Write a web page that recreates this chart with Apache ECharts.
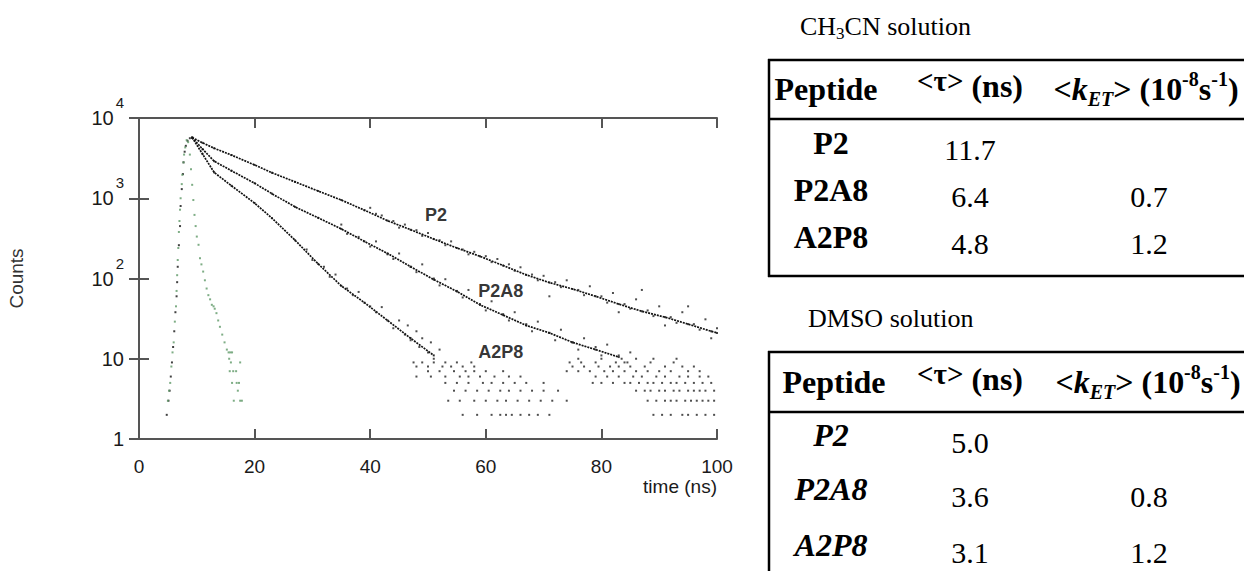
<!DOCTYPE html>
<html><head><meta charset="utf-8">
<script src="https://cdn.jsdelivr.net/npm/echarts@6/dist/echarts.min.js"></script>
<style>html,body{margin:0;padding:0;background:#fff;}#c{width:1244px;height:571px;}</style>
</head><body><div id="c"></div>
<script>
// ---------- data ----------
const xTicks = [0, 20, 40, 60, 80, 100];
const yDecades = [1, 10, 100, 1000, 10000];

// dense part of each decay trace: [time ns, counts]
const P2_main = [[9.2,5700],[11,4900],[13,4200],[16,3450],[20,2600],[23,2080],[27,1600],[31,1230],[35,950],[39,710],[43,525],[47,405],[51,310],[55,240],[59,189],[63,145],[67,111],[71,89],[75,74],[79,60],[83,48],[87,39],[91,33],[95,27],[99,22],[100,21]];
const P2A8_main = [[9.2,5700],[11,4100],[13,2900],[16,2200],[20,1540],[23,1140],[27,780],[31,570],[35,415],[39,290],[43,205],[47,140],[51,97],[55,69],[59,47],[63,35],[67,26],[71,21],[75,16],[79,13],[83,10.5]];
const A2P8_main = [[9.2,5700],[11,3550],[13,2100],[16,1430],[20,870],[23,565],[27,300],[31,152],[35,81],[39,50],[43,30],[47,18],[51,11]];

// scattered counts around each trace
const P2_noise = [[40,760],[41,640],[42,610],[44,520],[45,430],[46,470],[48,400],[49,340],[50,370],[52,300],[53,260],[54,290],[56,230],[57,200],[58,215],[60,190],[61,160],[62,175],[64,150],[65,125],[66,138],[68,112],[69,95],[70,108],[72,90],[73,78],[74,95],[76,72],[77,62],[78,80],[80,60],[81,50],[82,66],[84,48],[85,42],[86,55],[87,72],[88,40],[89,34],[90,45],[92,33],[93,28],[94,38],[95,45],[96,27],[97,23],[98,31],[99,18],[100,24],[71,60],[83,38],[91,26]];
const P2A8_noise = [[35,470],[36,360],[38,330],[40,250],[41,290],[43,200],[44,175],[45,205],[47,140],[48,120],[49,150],[51,100],[52,82],[53,98],[55,70],[56,58],[57,72],[59,48],[60,40],[61,52],[63,36],[64,30],[65,38],[67,27],[68,22],[69,29],[71,21],[72,17],[73,23],[75,16],[76,13],[77,18],[79,14],[80,11],[81,15],[83,11],[84,9],[85,12],
 [76,10],[80,10],[83.5,10],[86,10],[89,10],[93,10],
 [74.5,9],[76.5,9],[79,9],[82.5,9],[84.5,9],[88.5,9],[92.5,9],
 [75,8],[77,8],[79.5,8],[81.5,8],[83,8],[85,8],[87.5,8],[91,8],[94,8],[96,8],
 [74,7],[76,7],[78,7],[80.5,7],[82,7],[84,7],[86,7],[88,7],[90,7],[92,7],[95,7],[97,7],
 [79,6],[81,6],[83,6],[85.5,6],[87,6],[89.5,6],[91,6],[93.5,6],[95,6],[97,6],[98.5,6],
 [78.5,5],[80,5],[82,5],[84,5],[85,5],[86.5,5],[88,5],[89,5],[90.5,5],[92,5],[93,5],[94.5,5],[96,5],[97.5,5],[99,5],
 [86,4],[87.5,4],[88.5,4],[90,4],[91,4],[92.5,4],[93.5,4],[95,4],[96,4],[97,4],[98,4],[99.5,4],
 [88,3],[89.5,3],[91,3],[92,3],[93,3],[94.5,3],[95.5,3],[96.5,3],[97.5,3],[98.5,3],[99.5,3],
 [89,2],[90.5,2],[92,2],[94,2],[95,2],[96.5,2],[98,2],[99.5,2]];
const A2P8_noise = [[29,230],[30,170],[32,140],[33,105],[34,112],[36,75],[37,62],[38,68],[40,45],[41,38],[42,44],[44,24],[45,30],[46,20],[46.5,26],[47,17],[48,22],[48.5,14],[49,18],[50,12],[50.5,16],[51,10],[52,13],
 [47.5,9],[49,9],[51,9],[53,9],[55,9],[57.5,9],
 [48,8],[50,8],[52.5,8],[54,8],[56,8],[58,8],
 [50,7],[52,7],[54.5,7],[56.5,7],[58,7],[60,7],[63,7],
 [48,6],[50.5,6],[53,6],[55.5,6],[57,6],[59,6],[61.5,6],[64,6],[66,6],
 [53,5],[55,5],[57,5],[59.5,5],[61,5],[63,5],[65,5],[67,5],[70,5],
 [54.5,4],[56.5,4],[58.5,4],[60.5,4],[62.5,4],[64,4],[66,4],[68,4],[70,4],[72.5,4],
 [53.5,3],[55.5,3],[58,3],[60,3],[62,3],[63.5,3],[65.5,3],[67.5,3],[69.5,3],[71.5,3],[74,3],
 [56,2],[58.5,2],[61,2],[62.5,2],[63.5,2],[64.5,2],[66,2],[67.5,2],[69,2],[71,2]];

// rising edge of the decays (black) and instrument response (green)
const rise = [[4.8,2],[5.1,3],[5.3,4],[5.5,6],[5.7,9],[5.9,14],[6.1,22],[6.3,38],[6.5,60],[6.6,90],[6.7,140],[6.9,260],[7.1,450],[7.2,800],[7.4,1300],[7.6,2000],[7.7,2800],[7.9,3800],[8.1,4500],[8.4,5200],[8.8,5600]];
const IRF = [[5.0,3],[5.2,4],[5.4,5],[5.6,8],[5.8,12],[6.0,16],[6.2,29],[6.4,45],[6.5,70],[6.6,110],[6.7,170],[6.8,240],[6.9,380],[7.0,520],[7.1,720],[7.2,1000],[7.4,1500],[7.5,1960],[7.7,2800],[7.8,3500],[8.0,4300],[8.25,5300],[8.5,5000],[8.8,3500],[9.0,2300],[9.2,1470],[9.4,950],[9.6,620],[9.8,450],[10.0,333],[10.3,263],[10.55,179],[10.8,150],[11.1,122],[11.4,95],[11.7,75],[12.0,62],[12.3,55],[12.6,47],[12.9,45],[13.1,42],[13.4,37],[13.7,30],[14.0,25],[14.4,20],[14.8,16],[15.2,13],[15.5,12],[15.8,12],[16.1,12],[15.6,10],[15.9,9],[16.3,7],[15.7,7],[16.8,7],[17.5,9],[16.1,5],[16.9,5],[17.3,5],[17.1,4],[16.4,3],[17.5,3],[17.8,3]];

// curve annotations
const annotNames = ['P2', 'P2A8', 'A2P8'];
const annotT = [51.4, 62.6, 62.6];
const annotC = [620, 69, 12.2];

// tables
const tablePeptides = ['P2', 'P2A8', 'A2P8'];
const ch3cnTau = ['11.7', '6.4', '4.8'];
const ch3cnKet = ['', '0.7', '1.2'];
const dmsoTau = ['5.0', '3.6', '3.1'];
const dmsoKet = ['', '0.8', '1.2'];

// ---------- drawing ----------
const sans = "'Liberation Sans', Arial, sans-serif";
const serif = "'Liberation Serif', 'Times New Roman', serif";
const axisCol = '#555';
const txtCol = '#1a1a1a';

const chart = echarts.init(document.getElementById('c'), null, {renderer: 'svg', width: 1244, height: 571});

const richT = {
  b:   {fontFamily: serif, fontSize: 32, fontWeight: 'bold', lineHeight: 40, fill: '#000'},
  bi:  {fontFamily: serif, fontSize: 32, fontWeight: 'bold', fontStyle: 'italic', lineHeight: 40, fill: '#000'},
  r:   {fontFamily: serif, fontSize: 30, lineHeight: 40, fill: '#000'},
  tau: {fontFamily: serif, fontSize: 29, fontWeight: 'bold', lineHeight: 32, verticalAlign: 'top', fill: '#000'},
  sub: {fontFamily: serif, fontSize: 20, fontWeight: 'bold', fontStyle: 'italic', lineHeight: 20, verticalAlign: 'bottom', fill: '#000'},
  sup: {fontFamily: serif, fontSize: 20, fontWeight: 'bold', lineHeight: 20, verticalAlign: 'top', fill: '#000'},
  t:   {fontFamily: serif, fontSize: 26, lineHeight: 32, fill: '#000'},
  ts:  {fontFamily: serif, fontSize: 17, lineHeight: 16, verticalAlign: 'bottom', fill: '#000'}
};
function T(x, y, text, align) {
  return {type: 'text', x: x, y: y, silent: true,
    style: {text: text, rich: richT, align: align || 'center', verticalAlign: 'middle', fontFamily: serif, fontSize: 30}};
}
function L(x1, y1, x2, y2) {
  return {type: 'line', silent: true, shape: {x1, y1, x2, y2}, style: {stroke: '#000', lineWidth: 2.5}};
}
const colPep = 831, colTau = 970, colKet = 1149;
const kHeader = '{b|<}{bi|k}{sub|ET}{b|> (10}{sup|-8}{b|s}{sup|-1}{b|)}';
const tauHeader = '{tau|<τ>}{b| (ns)}';
const graphics = [];
// CH3CN table
graphics.push(T(800, 26, '{t|CH}{ts|3}{t|CN solution}', 'left'));
graphics.push(L(769, 59, 769, 277), L(768, 60, 1244, 60), L(768, 119, 1244, 119), L(768, 276, 1244, 276));
graphics.push(T(826, 89, '{b|Peptide}'), T(colTau, 86, tauHeader), T(1146, 89, kHeader));
const rowY1 = [143, 190, 237];
tablePeptides.forEach((p, i) => {
  graphics.push(T(colPep, rowY1[i], '{b|' + p + '}'));
  graphics.push(T(colTau, rowY1[i] + 6, '{r|' + ch3cnTau[i] + '}'));
  if (ch3cnKet[i]) graphics.push(T(colKet, rowY1[i] + 6, '{r|' + ch3cnKet[i] + '}'));
});
// DMSO table
graphics.push(T(808, 318, '{t|DMSO solution}', 'left'));
graphics.push(L(769, 351, 769, 571), L(768, 352, 1244, 352), L(768, 412, 1244, 412));
graphics.push(T(834, 382, '{b|Peptide}'), T(colTau, 379, tauHeader), T(1148, 382, kHeader));
const rowY2 = [435, 489, 545];
tablePeptides.forEach((p, i) => {
  graphics.push(T(colPep, rowY2[i], '{bi|' + p + '}'));
  graphics.push(T(colTau, rowY2[i] + 7, '{r|' + dmsoTau[i] + '}'));
  if (dmsoKet[i]) graphics.push(T(colKet, rowY2[i] + 7, '{r|' + dmsoKet[i] + '}'));
});

function yLabel(v) {
  const e = Math.round(Math.log10(v));
  if (e <= 1) return '{b|' + (e === 0 ? '1' : '10') + '}';
  return '{b|10}{s|' + e + '}';
}
const axisBase = {
  axisLine: {show: true, lineStyle: {color: axisCol, width: 2}},
  axisTick: {show: true, inside: true, length: 10, lineStyle: {color: axisCol, width: 2}},
  splitLine: {show: false}
};
const dotSeries = (data, color, size) => ({type: 'scatter', data: data, symbol: 'rect', symbolSize: size || 2,
  itemStyle: {color: color}, silent: true, z: 3});
const lineSeries = (data) => ({type: 'line', data: data, showSymbol: false, silent: true, z: 2,
  lineStyle: {color: '#111', width: 1.7, type: [2, 1]}});

const option = {
  animation: false,
  backgroundColor: '#fff',
  grid: {left: 139, top: 118, width: 578, height: 321, containLabel: false},
  xAxis: [
    Object.assign({type: 'value', min: 0, max: 100, interval: 20, position: 'bottom',
      axisLabel: {show: true, fontSize: 19, fontFamily: sans, color: txtCol, margin: 18},
      name: 'time (ns)', nameLocation: 'end', nameGap: 0,
      nameTextStyle: {fontSize: 19, fontFamily: sans, color: txtCol, align: 'right', verticalAlign: 'top', padding: [38, 0, 0, 0]}
    }, axisBase),
    Object.assign({type: 'value', min: 0, max: 100, interval: 20, position: 'top', axisLabel: {show: false}}, axisBase)
  ],
  yAxis: [
    Object.assign({type: 'log', logBase: 10, min: 1, max: 10000, position: 'left',
      axisLabel: {show: true, formatter: yLabel, margin: 15, fontFamily: sans, fontSize: 20, color: txtCol,
        rich: {b: {fontSize: 20, fontFamily: sans, color: txtCol, lineHeight: 46},
               s: {fontSize: 15, fontFamily: sans, color: txtCol, lineHeight: 15, verticalAlign: 'top', padding: [0, 0, 0, 2]}}},
      name: 'Counts', nameLocation: 'middle', nameGap: 113, nameRotate: 90,
      nameTextStyle: {fontSize: 19, fontFamily: sans, color: '#333'}
    }, axisBase),
    Object.assign({type: 'log', logBase: 10, min: 1, max: 10000, position: 'right', axisLabel: {show: false}}, axisBase)
  ],
  series: [
    dotSeries(rise, '#111', 2),
    lineSeries(P2_main), lineSeries(P2A8_main), lineSeries(A2P8_main),
    dotSeries(P2_main, '#111', 2), dotSeries(P2A8_main, '#111', 2), dotSeries(A2P8_main, '#111', 2),
    dotSeries(P2_noise, '#222', 2), dotSeries(P2A8_noise, '#222', 2), dotSeries(A2P8_noise, '#222', 2),
    dotSeries(IRF, '#5e9966', 2),
    {type: 'scatter', silent: true, symbolSize: 0, z: 5,
      data: annotNames.map((n, i) => ({name: n, value: [annotT[i], annotC[i]]})),
      label: {show: true, position: 'inside', formatter: p => p.name, fontFamily: sans, fontWeight: 'bold', fontSize: 18, color: '#000'}}
  ],
  graphic: graphics
};
chart.setOption(option);
</script></body></html>
